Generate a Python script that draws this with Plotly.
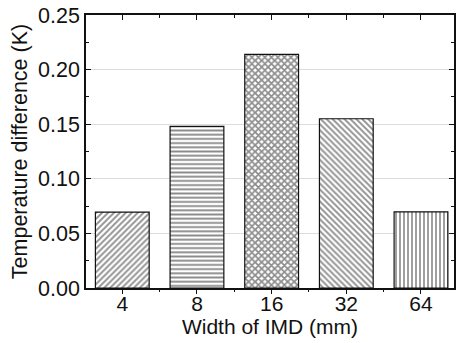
import plotly.graph_objects as go

categories = ["4", "8", "16", "32", "64"]
temp_diff = [0.0695, 0.148, 0.214, 0.155, 0.0698]
patterns = ["/", "-", "x", "\\", "|"]
y_ticks = [0.00, 0.05, 0.10, 0.15, 0.20, 0.25]
y_tick_labels = ["0.00", "0.05", "0.10", "0.15", "0.20", "0.25"]

FONT = "Liberation Sans, Arial, sans-serif"
xpos = list(range(len(categories)))

fig = go.Figure()
fig.add_trace(go.Bar(
    x=xpos, y=temp_diff, width=0.72,
    marker=dict(
        color="white",
        line=dict(color="#111", width=1.2),
        pattern=dict(shape=patterns, fgcolor="#1a1a1a", bgcolor="white",
                     size=[4.2, 4.2, 4.6, 4.2, 4.0],
                     solidity=[0.45, 0.45, 0.62, 0.45, 0.42]),
    ),
    showlegend=False,
))
# invisible traces to anchor the extra tick axes
for ax in ["x2", "x3"]:
    fig.add_trace(go.Scatter(x=[0], y=[0], xaxis=ax, mode="markers",
                             marker=dict(opacity=0), showlegend=False, hoverinfo="skip"))

xr = [-0.486, 4.442]
tick_common = dict(tickwidth=1.2, tickcolor="#111", showgrid=False, zeroline=False)
fig.update_layout(
    width=457, height=343,
    margin=dict(l=86, r=1, t=15, b=55),
    paper_bgcolor="white", plot_bgcolor="white",
    font=dict(family=FONT, size=21, color="#111"),
    xaxis=dict(
        range=xr, tickvals=xpos, ticktext=categories,
        ticks="", ticklabelstandoff=-4,
        showline=True, linecolor="#111", linewidth=1.5, mirror=False,
        showgrid=False, zeroline=False,
        title=dict(text="Width of IMD (mm)", standoff=0, font=dict(size=21)),
        tickfont=dict(size=21),
    ),
    xaxis2=dict(
        overlaying="x", side="bottom", range=xr, tickvals=xpos,
        ticks="outside", ticklen=5, showticklabels=False, showline=False,
        minor=dict(ticks="outside", dtick=0.5, tick0=0.5, ticklen=3, tickcolor="#111", tickwidth=1.2),
        **tick_common,
    ),
    xaxis3=dict(
        overlaying="x", side="top", range=xr, tickvals=xpos,
        ticks="inside", ticklen=5,
        minor=dict(ticks="inside", dtick=0.5, tick0=0.5, ticklen=3, tickcolor="#111", tickwidth=1.2),
        showticklabels=False, showline=True, linecolor="#111", linewidth=1.5,
        **tick_common,
    ),
    yaxis=dict(
        range=[0, 0.25], tickvals=y_ticks, ticktext=y_tick_labels,
        ticks="inside", ticklen=5, tickwidth=1.2, tickcolor="#111",
        minor=dict(ticks="inside", dtick=0.025, ticklen=3, tickcolor="#111", tickwidth=1.2, showgrid=False),
        showline=True, linecolor="#111", linewidth=1.5, mirror="ticks",
        showgrid=True, gridcolor="#dcdcdc", gridwidth=1, zeroline=False,
        title=dict(text="Temperature difference (K)", standoff=5, font=dict(size=21.5)),
        tickfont=dict(size=21.5),
    ),
)
fig.write_html("out.html")
